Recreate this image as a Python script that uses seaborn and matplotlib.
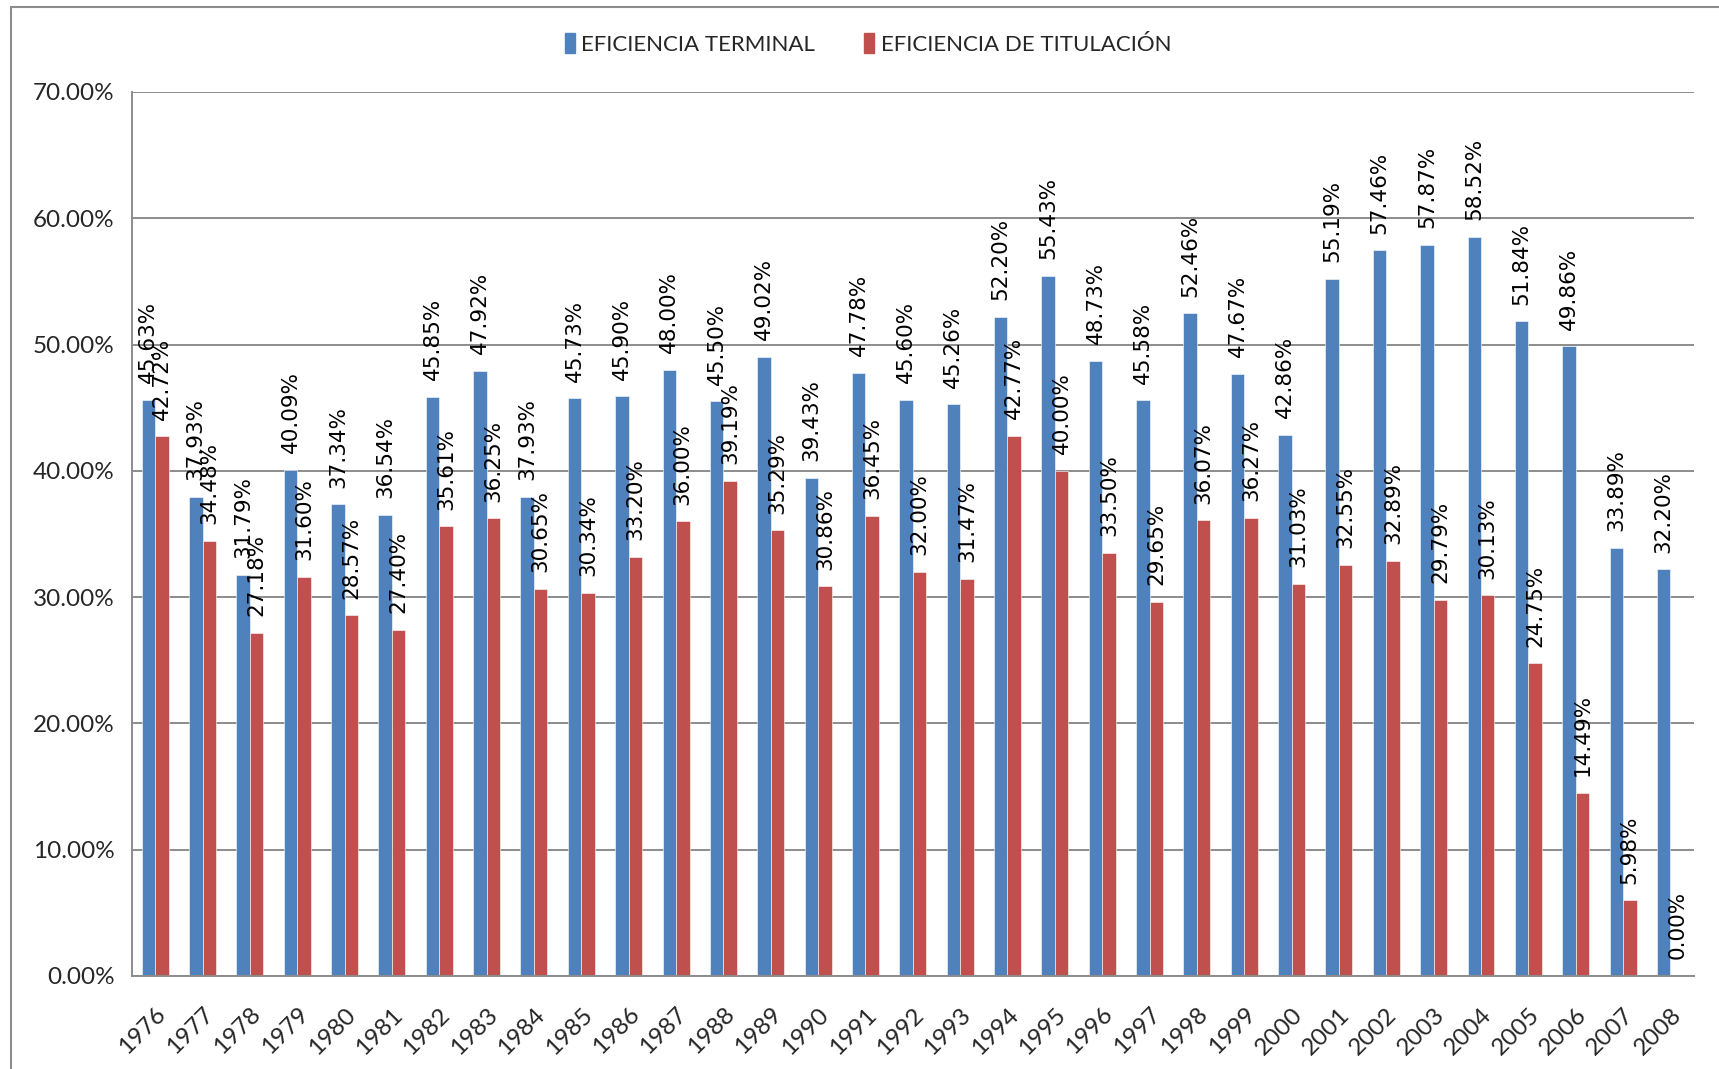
import numpy as np
import pandas as pd
import matplotlib
matplotlib.use("Agg")
import matplotlib.pyplot as plt
import matplotlib.patches as mpatches
from matplotlib.ticker import FuncFormatter, FixedLocator
import seaborn as sns

# data
years = [str(y) for y in range(1976, 2009)]
terminal = [45.63, 37.93, 31.79, 40.09, 37.34, 36.54, 45.85, 47.92, 37.93, 45.73,
            45.90, 48.00, 45.50, 49.02, 39.43, 47.78, 45.60, 45.26, 52.20, 55.43,
            48.73, 45.58, 52.46, 47.67, 42.86, 55.19, 57.46, 57.87, 58.52, 51.84,
            49.86, 33.89, 32.20]
titulacion = [42.72, 34.48, 27.18, 31.60, 28.57, 27.40, 35.61, 36.25, 30.65, 30.34,
              33.20, 36.00, 39.19, 35.29, 30.86, 36.45, 32.00, 31.47, 42.77, 40.00,
              33.50, 29.65, 36.07, 36.27, 31.03, 32.55, 32.89, 29.79, 30.13, 24.75,
              14.49, 5.98, 0.00]
series = ["EFICIENCIA TERMINAL", "EFICIENCIA DE TITULACIÓN"]
colors = ["#4F81BD", "#C0504D"]

df = pd.DataFrame({
    "year": years * 2,
    "value": terminal + titulacion,
    "serie": [series[0]] * len(years) + [series[1]] * len(years),
})

sns.set_style("white")
plt.rcParams["font.family"] = ["Lato", "DejaVu Sans"]

fig = plt.figure(figsize=(17.19, 10.69), dpi=100)
ax = fig.add_axes([0.0765, 0.087, 0.909, 0.827])

sns.barplot(data=df, x="year", y="value", hue="serie", palette=colors,
            width=0.57, ax=ax, legend=False, saturation=1,
            edgecolor="white", linewidth=0.4)

for cont, vals in zip(ax.containers, [terminal, titulacion]):
    ax.bar_label(cont, labels=[f"{v:.2f}%" for v in vals], rotation=90,
                 padding=12, fontsize=15.5, family="DejaVu Sans", color="black")

ax.set_ylim(0, 70)
ax.set_yticks(np.arange(0, 71, 10))
ax.yaxis.set_major_formatter(FuncFormatter(lambda v, p: f"{v:.2f}%"))
ax.set_xlim(-0.5, len(years) - 0.5)
ax.set_xlabel("")
ax.set_ylabel("")

ax.grid(axis="y", color="#8C8C8C", linewidth=1.4)
ax.set_axisbelow(True)
for s in ["top", "right"]:
    ax.spines[s].set_visible(False)
for s in ["left", "bottom"]:
    ax.spines[s].set_color("#8C8C8C")
    ax.spines[s].set_linewidth(1.4)

ax.tick_params(axis="y", length=7, width=1.2, color="#8C8C8C", labelsize=17.5, pad=5)
ax.tick_params(axis="x", which="major", length=0, labelsize=17.5, pad=20)
ax.xaxis.set_minor_locator(FixedLocator(np.arange(-0.5, len(years), 1.0)))
ax.tick_params(axis="x", which="minor", length=8, width=1.2, color="#8C8C8C")
for lab in ax.get_xticklabels():
    lab.set_rotation(45)
    lab.set_ha("right")
    lab.set_rotation_mode("anchor")

handles = [mpatches.Patch(color=c, label=s) for c, s in zip(colors, series)]
fig.legend(handles=handles, loc="center", bbox_to_anchor=(0.505, 0.959), ncol=2,
           frameon=False, fontsize=16, handlelength=0.45, handleheight=1.0,
           handletextpad=0.3, columnspacing=2.2)

# outer chart frame
frame = mpatches.Rectangle((11 / 1719, -0.1), 1.2, 1.1 - 7 / 1069,
                           transform=fig.transFigure, fill=False,
                           edgecolor="#8C8C8C", linewidth=1.5)
fig.patches.append(frame)

fig.savefig("out.png", dpi=100)
